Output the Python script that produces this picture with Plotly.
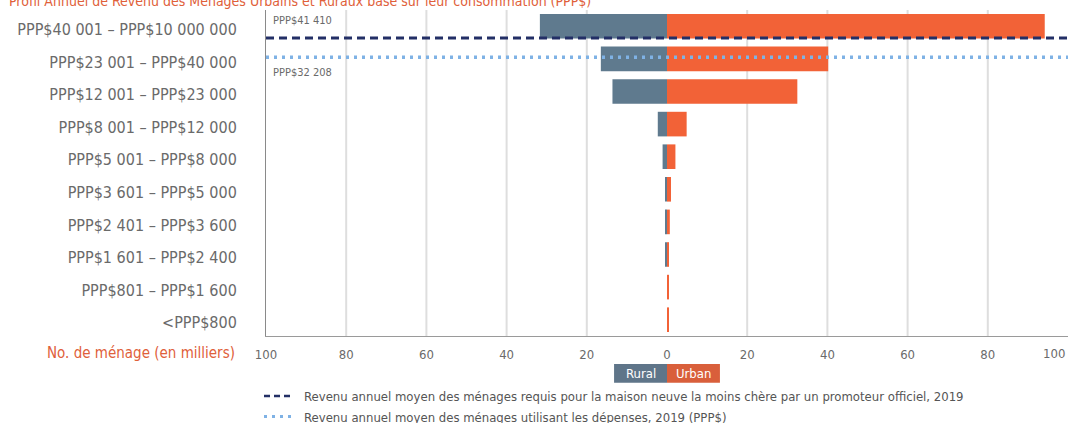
import plotly.graph_objects as go

# ---------------- data ----------------
categories = [
    "PPP$40 001 – PPP$10 000 000",
    "PPP$23 001 – PPP$40 000",
    "PPP$12 001 – PPP$23 000",
    "PPP$8 001 – PPP$12 000",
    "PPP$5 001 – PPP$8 000",
    "PPP$3 601 – PPP$5 000",
    "PPP$2 401 – PPP$3 600",
    "PPP$1 601 – PPP$2 400",
    "PPP$801 – PPP$1 600",
    "<PPP$800",
]
rural = [31.7, 16.5, 13.6, 2.3, 1.1, 0.3, 0.3, 0.3, 0.0, 0.0]
urban = [94.2, 40.2, 32.5, 4.9, 2.1, 1.0, 0.7, 0.5, 0.5, 0.5]

x_tick_vals = [-100, -80, -60, -40, -20, 0, 20, 40, 60, 80, 100]
x_tick_text = ["100", "80", "60", "40", "20", "0", "20", "40", "60", "80", "100"]

ref_labels = ["PPP$41 410", "PPP$32 208"]
ref_positions = [0.36, 0.95]  # position on the income-band axis

title_text = "Profil Annuel de Revenu des Ménages Urbains et Ruraux basé sur leur consommation (PPP$)"
xaxis_title = "No. de ménage (en milliers)"
legend_dash_text = "Revenu annuel moyen des ménages requis pour la maison neuve la moins chère par un promoteur officiel, 2019"
legend_dot_text = "Revenu annuel moyen des ménages utilisant les dépenses, 2019 (PPP$)"
series_names = ["Rural", "Urban"]

# ---------------- style ----------------
FONT = "DejaVu Sans Condensed, Liberation Sans Narrow, sans-serif"
RURAL_C = "#5f7a8e"
URBAN_C = "#f26237"
ORANGE_TXT = "#e0603a"
NAVY = "#232f66"
LIGHTBLUE = "#7fb2e5"
GRAY_TXT = "#6a6a6a"

W, H = 1068, 423
ML, MR, MT, MB = 266, 0, 10, 87
PW, PH = W - ML - MR, H - MT - MB


def px_x(px):
    return (px - ML) / PW


def px_y(py):
    return (H - MB - py) / PH


y_idx = list(range(len(categories)))

fig = go.Figure()
fig.add_trace(go.Bar(
    y=y_idx, x=[-v for v in rural], orientation="h", name=series_names[0],
    marker=dict(color=RURAL_C, line=dict(width=0)), showlegend=False,
))
fig.add_trace(go.Bar(
    y=y_idx, x=urban, orientation="h", name=series_names[1],
    marker=dict(color=URBAN_C, line=dict(width=0)), showlegend=False,
))

shapes = []
# vertical gridlines (no zero line)
for v in x_tick_vals:
    if v in (-100, 0, 100):
        continue
    shapes.append(dict(type="line", xref="x", yref="paper", x0=v, x1=v, y0=0, y1=1,
                       line=dict(color="#dedede", width=2), layer="below"))

# reference lines
shapes.append(dict(type="line", xref="paper", yref="y", x0=0, x1=1,
                   y0=ref_positions[0], y1=ref_positions[0],
                   line=dict(color=NAVY, width=3, dash="8px,5px"), layer="above"))
shapes.append(dict(type="line", xref="paper", yref="y", x0=0, x1=1,
                   y0=ref_positions[1], y1=ref_positions[1],
                   line=dict(color=LIGHTBLUE, width=3.5, dash="3px,5px"), layer="above"))

# Rural/Urban legend boxes
shapes.append(dict(type="rect", xref="x", yref="paper", x0=-13.2, x1=0,
                   y0=px_y(382.7), y1=px_y(364), fillcolor="#5f7589", line=dict(width=0)))
shapes.append(dict(type="rect", xref="x", yref="paper", x0=0, x1=13.2,
                   y0=px_y(382.7), y1=px_y(364), fillcolor="#d95f3b", line=dict(width=0)))

# line legend symbols
shapes.append(dict(type="line", xref="paper", yref="paper", x0=px_x(264), x1=px_x(292),
                   y0=px_y(396), y1=px_y(396), line=dict(color=NAVY, width=2.5, dash="6px,4px")))
shapes.append(dict(type="line", xref="paper", yref="paper", x0=px_x(264), x1=px_x(292),
                   y0=px_y(416.5), y1=px_y(416.5), line=dict(color=LIGHTBLUE, width=3, dash="3px,5px")))

annotations = [
    dict(text=title_text, xref="paper", yref="paper", x=px_x(7), y=px_y(0.5),
         xanchor="left", yanchor="middle", showarrow=False,
         font=dict(family=FONT, size=14, color=ORANGE_TXT)),
    dict(text=xaxis_title, xref="paper", yref="paper", x=px_x(237), y=px_y(353),
         xanchor="right", yanchor="middle", showarrow=False,
         font=dict(family=FONT, size=15, color=ORANGE_TXT)),
    dict(text=x_tick_text[-1], xref="x", yref="paper", x=x_tick_vals[-1], y=px_y(353),
         xanchor="right", yanchor="middle", showarrow=False, xshift=-1,
         font=dict(family=FONT, size=13, color=GRAY_TXT)),
    dict(text=ref_labels[0], xref="paper", yref="paper", x=px_x(271), y=px_y(20),
         xanchor="left", yanchor="middle", showarrow=False,
         font=dict(family=FONT, size=11, color=GRAY_TXT)),
    dict(text=ref_labels[1], xref="paper", yref="paper", x=px_x(271), y=px_y(72),
         xanchor="left", yanchor="middle", showarrow=False,
         font=dict(family=FONT, size=11, color=GRAY_TXT)),
    dict(text=series_names[0], xref="x", yref="paper", x=-6.6, y=px_y(373.5),
         xanchor="center", yanchor="middle", showarrow=False,
         font=dict(family=FONT, size=13, color="white")),
    dict(text=series_names[1], xref="x", yref="paper", x=6.6, y=px_y(373.5),
         xanchor="center", yanchor="middle", showarrow=False,
         font=dict(family=FONT, size=13, color="white")),
    dict(text=legend_dash_text, xref="paper", yref="paper", x=px_x(302), y=px_y(396),
         xanchor="left", yanchor="middle", showarrow=False,
         font=dict(family=FONT, size=13, color="#555555")),
    dict(text=legend_dot_text, xref="paper", yref="paper", x=px_x(302), y=px_y(417.5),
         xanchor="left", yanchor="middle", showarrow=False,
         font=dict(family=FONT, size=13, color="#555555")),
]

fig.update_layout(
    width=W, height=H,
    margin=dict(l=ML, r=MR, t=MT, b=MB, pad=0, autoexpand=False),
    paper_bgcolor="white", plot_bgcolor="white",
    barmode="overlay", bargap=0.245,
    font=dict(family=FONT, color=GRAY_TXT),
    shapes=shapes, annotations=annotations,
    xaxis=dict(range=[-100, 100], tickvals=x_tick_vals[:-1], ticktext=x_tick_text[:-1],
               showgrid=False, zeroline=False, showline=True, linecolor="#9a9a9a",
               linewidth=1, ticks="", ticklabelstandoff=6, automargin=False,
               tickfont=dict(family=FONT, size=13, color=GRAY_TXT), fixedrange=True),
    yaxis=dict(range=[len(categories) - 0.5, -0.5], tickvals=y_idx, ticktext=categories,
               showgrid=False, zeroline=False, showline=True, linecolor="#8a8a8a",
               linewidth=1, ticks="", ticklabelstandoff=25, ticklabelshift=-3,
               automargin=False,
               tickfont=dict(family=FONT, size=16, color=GRAY_TXT), fixedrange=True),
)

fig.write_html(
    "out.html",
    config={"displayModeBar": False},
    post_script="document.body.style.margin='0';document.body.style.overflow='hidden';",
)
